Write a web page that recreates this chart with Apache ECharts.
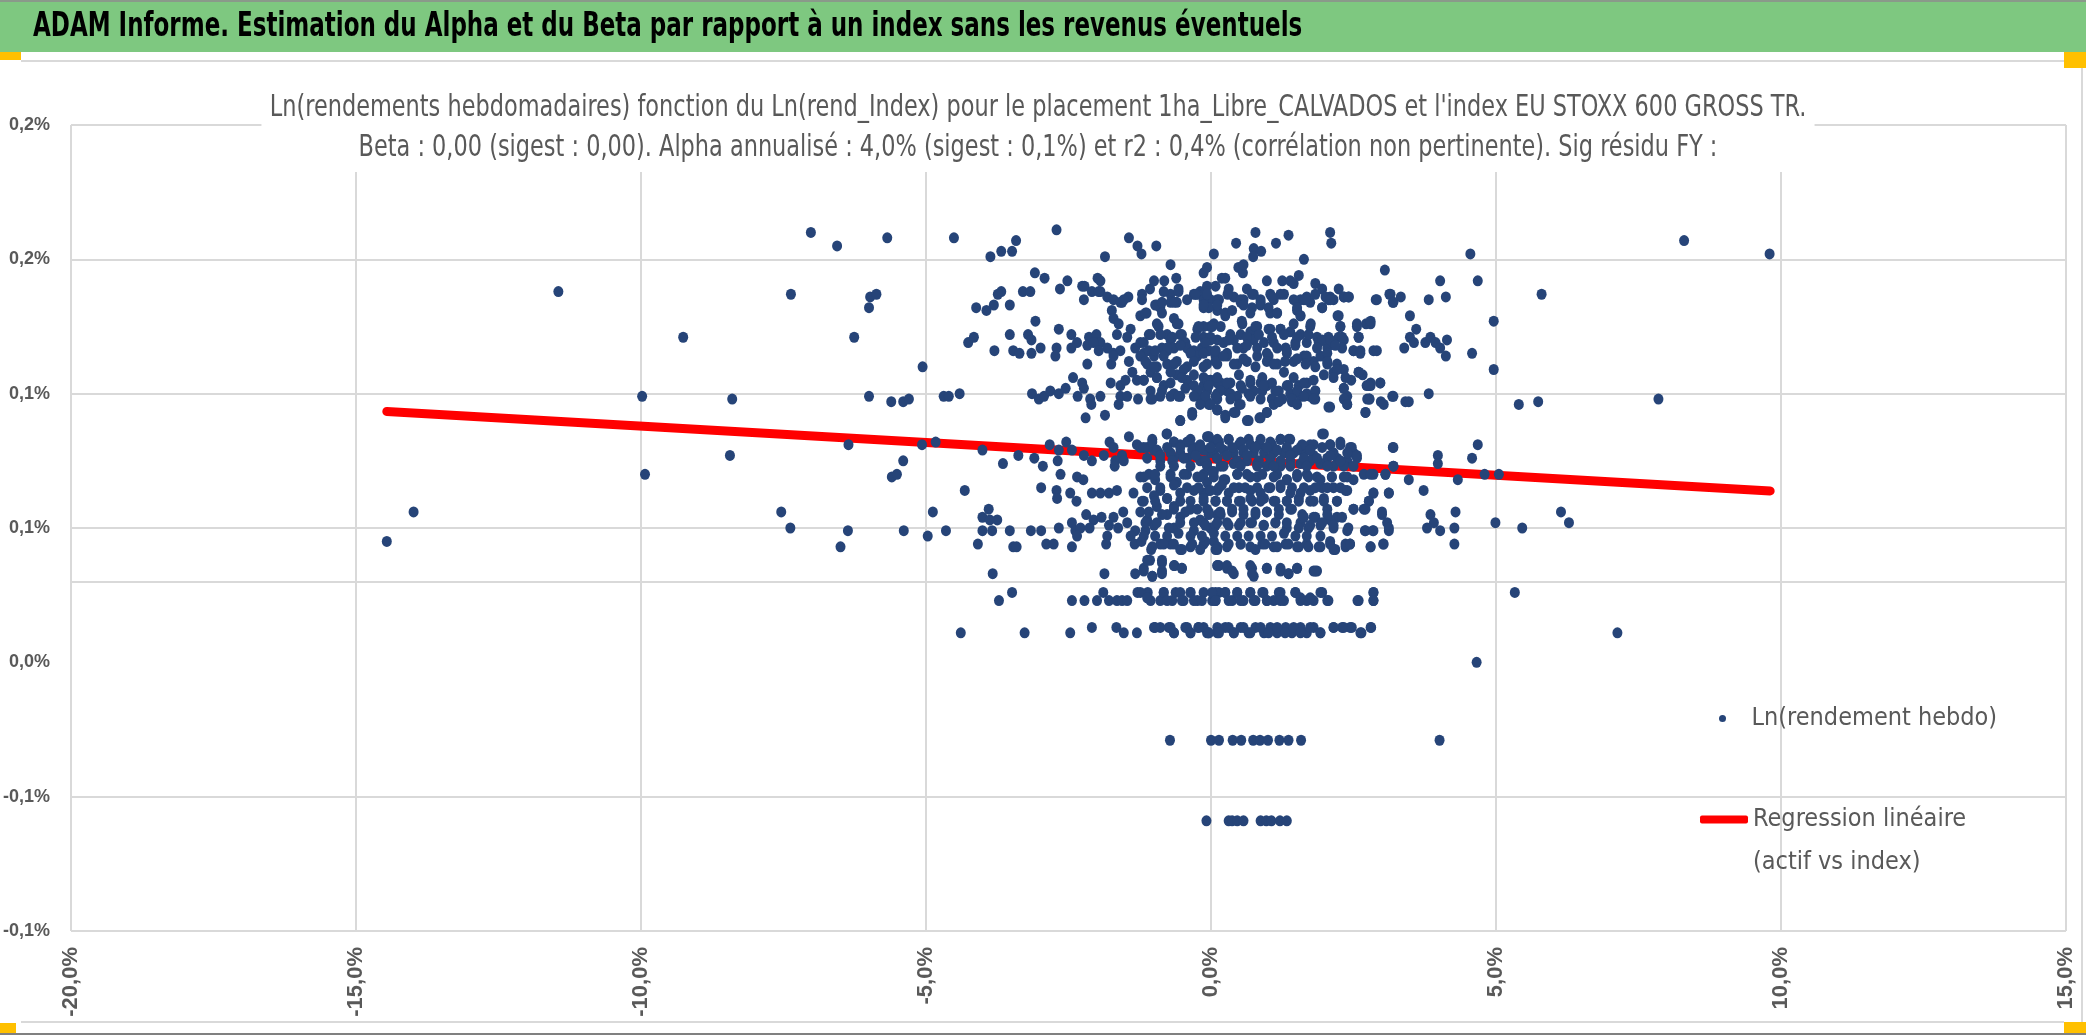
<!DOCTYPE html>
<html>
<head>
<meta charset="utf-8">
<title>ADAM Informe - Alpha / Beta</title>
<script src="https://cdn.jsdelivr.net/npm/echarts@6/dist/echarts.min.js"></script>
<style>
html,body{margin:0;padding:0;background:#fff;}
#chart{width:2086px;height:1035px;}
</style>
</head>
<body>
<div id="chart"></div>
<script>
var bannerTitle = "ADAM Informe. Estimation du Alpha et du Beta par rapport à un index sans les revenus éventuels";
var chartTitle = [
	"Ln(rendements hebdomadaires) fonction du Ln(rend_Index) pour le placement 1ha_Libre_CALVADOS et l'index EU STOXX 600 GROSS TR.",
	"Beta : 0,00 (sigest : 0,00). Alpha annualisé : 4,0% (sigest : 0,1%) et r2 : 0,4% (corrélation non pertinente). Sig résidu FY :"
];
var serieNames = ["Ln(rendement hebdo)", "Regression linéaire (actif vs index)"];

// [rendement index %, rendement actif %]
var outliersLeft = [[-7.02,0.160],[-6.56,0.155],[-5.68,0.158],[-11.45,0.138],[-7.37,0.137],[-5.98,0.136],[-5.87,0.137],[-6.00,0.132],[-9.26,0.121],[-6.26,0.121],[-5.06,0.110],[-9.98,0.099],[-8.40,0.098],[-6.00,0.099],[-5.61,0.097],[-5.40,0.097],[-5.30,0.098],[-4.69,0.099],[-6.36,0.081],[-5.07,0.081],[-4.83,0.082],[-8.44,0.077],[-9.93,0.070],[-5.40,0.075],[-5.60,0.069],[-5.51,0.070],[-13.99,0.056],[-14.46,0.045],[-7.54,0.056],[-7.38,0.050],[-6.37,0.049],[-6.50,0.043],[-5.39,0.049],[-4.97,0.047],[-4.88,0.056],[-4.65,0.049]];

var outliersRight = [[4.55,0.152],[4.68,0.142],[5.80,0.137],[4.96,0.127],[4.58,0.115],[4.96,0.109],[5.40,0.096],[5.74,0.097],[7.85,0.098],[8.30,0.157],[9.80,0.152],[4.68,0.081],[4.58,0.076],[4.80,0.070],[5.05,0.070],[6.14,0.056],[6.28,0.052],[4.99,0.052],[5.46,0.050],[5.33,0.026],[7.13,0.011],[4.66,0.000]];

var lowRows = [[-0.72,-0.029],[0.00,-0.029],[0.14,-0.029],[0.38,-0.029],[0.53,-0.029],[0.74,-0.029],[0.86,-0.029],[1.00,-0.029],[1.20,-0.029],[1.36,-0.029],[1.58,-0.029],[4.01,-0.029],[-0.08,-0.059],[0.31,-0.059],[0.37,-0.059],[0.46,-0.059],[0.57,-0.059],[0.87,-0.059],[0.97,-0.059],[1.06,-0.059],[1.21,-0.059],[1.33,-0.059]];

var clusterLeft = [[-4.51,0.158],[-3.87,0.151],[-3.68,0.153],[-3.49,0.153],[-3.42,0.157],[-2.71,0.161],[-1.86,0.151],[-1.44,0.158],[-1.29,0.155],[-1.22,0.152],[-0.96,0.155],[0.05,0.152],
[-3.09,0.145],[-2.92,0.143],[-2.52,0.142],[-2.65,0.139],[-2.26,0.140],[-2.22,0.140],[-1.99,0.143],[-1.94,0.142],[-2.09,0.138],[-1.94,0.138],[-1.82,0.136],[-1.71,0.135],[-1.56,0.134],[-1.45,0.136],[-1.21,0.137],[-1.07,0.139],[-1.00,0.142],[-0.82,0.142],[-0.71,0.148],[-0.61,0.143],[-0.57,0.139],[-0.71,0.137],[-0.30,0.137],[-0.19,0.138],[-0.13,0.145],[-0.07,0.147],[0.08,0.140],[-3.68,0.138],[-3.74,0.137],[-3.81,0.133],[-3.94,0.131],[-4.12,0.132],[-3.53,0.133],[-3.30,0.138],[-3.17,0.138],[-2.23,0.135],[-1.97,0.138],
[-1.74,0.131],[-1.59,0.134],[-1.53,0.135],[-1.21,0.135],[-1.24,0.129],[-1.13,0.130],[-0.95,0.133],[-0.89,0.132],[-0.71,0.134],[-0.60,0.134],[-0.86,0.130],[-0.65,0.128],[-0.42,0.135],[-0.24,0.137],[-0.13,0.132],[-0.01,0.135],[0.11,0.131],[-1.71,0.128],[-1.62,0.126],[-1.41,0.124],[-1.47,0.121],[-1.06,0.122],[-0.92,0.125],[-0.77,0.122],[-0.57,0.126],[-0.54,0.122],[-0.71,0.120],[-0.45,0.119],[-0.24,0.124],[-0.13,0.121],[-0.01,0.125],[0.11,0.120],[-3.08,0.127],[-2.67,0.124],[-2.45,0.122],[-2.35,0.119],[-2.14,0.121],[-2.01,0.122],[-1.94,0.119],[-1.82,0.117],[-3.53,0.122],[-3.21,0.122],[-3.15,0.120],[-1.65,0.122],[-4.26,0.119],[-4.16,0.121],[-3.80,0.116],[-3.47,0.116],[-3.36,0.115],[-3.15,0.115],[-2.99,0.117],[-2.71,0.117],[-2.73,0.114],[-2.45,0.117],
[-2.17,0.118],[-2.06,0.119],[-1.97,0.116],[-1.71,0.115],[-1.59,0.116],[-1.33,0.117],[-1.24,0.119],[-1.18,0.115],[-1.09,0.116],[-1.00,0.114],[-0.86,0.117],[-0.77,0.116],[-0.65,0.117],[-0.42,0.117],[-0.30,0.116],[-0.16,0.117],[-0.04,0.116],[0.08,0.116],[-2.17,0.111],[-1.75,0.111],[-1.71,0.114],[-1.44,0.112],[-1.24,0.114],[-1.12,0.111],[-0.95,0.110],[-0.77,0.111],[-0.60,0.112],[-0.42,0.110],[-0.24,0.114],[-0.07,0.111],[0.11,0.111],[-2.42,0.106],[-2.26,0.104],[-2.23,0.102],[-1.76,0.104],[-1.59,0.103],[-1.50,0.105],[-1.38,0.108],[-1.30,0.105],[-1.18,0.105],[-1.06,0.108],[-0.95,0.106],[-0.83,0.103],[-0.71,0.104],[-0.60,0.107],[-0.42,0.105],[-0.30,0.103],[-0.13,0.103],[-0.01,0.105],[0.11,0.104],[-3.14,0.100],[-3.02,0.098],[-2.93,0.099],[-2.82,0.101],[-2.67,0.100],[-2.55,0.102],[-2.34,0.099],[-2.12,0.098],[-1.94,0.099],[-1.59,0.099],[-1.47,0.099],[-1.28,0.098],[-1.06,0.098],[-0.89,0.099],[-0.71,0.099],[-0.54,0.099],[-0.19,0.099],[-0.07,0.097],[0.11,0.098],[-4.60,0.099],[-4.41,0.100],
[-2.20,0.091],[-2.10,0.096],[-1.86,0.092],[-1.62,0.096],[-0.54,0.090],[-0.33,0.093],[0.11,0.094],
[-4.01,0.079],[-3.65,0.074],[-3.38,0.077],[-3.10,0.076],[-2.83,0.081],[-2.67,0.079],[-2.54,0.082],[-2.44,0.079],[-2.23,0.077],[-2.09,0.075],[-1.88,0.077],[-1.78,0.082],[-1.71,0.080],[-1.56,0.077],[-1.44,0.084],[-1.30,0.081],[-1.24,0.080],[-1.12,0.080],[-1.03,0.083],[-0.92,0.078],[-0.78,0.085],[-0.65,0.082],[-0.54,0.081],[-0.42,0.082],[-0.30,0.080],[-0.19,0.081],[-0.07,0.084],[0.05,0.082],[-0.89,0.075],[-0.65,0.076],[-0.42,0.076],[-0.19,0.075],[-0.01,0.078],[0.11,0.076],[-1.68,0.075],[-1.53,0.075],[-0.71,0.078],[-0.54,0.078],[-1.00,0.079],
[-2.95,0.073],[-2.69,0.075],[-2.64,0.070],[-2.35,0.069],[-2.24,0.068],[-2.98,0.065],[-2.71,0.064],[-2.70,0.061],[-2.47,0.063],[-2.36,0.060],[-2.09,0.063],[-1.94,0.063],[-1.79,0.063],[-1.65,0.064],[-1.36,0.063],[-1.24,0.069],[-1.09,0.070],[-0.98,0.068],[-0.89,0.064],[-0.71,0.070],[-0.60,0.067],[-0.42,0.070],[-0.24,0.069],[-0.07,0.067],[0.05,0.071],[-0.54,0.063],[-0.30,0.064],[-0.13,0.063],[0.11,0.064],[-1.21,0.060],[-1.00,0.062],[-0.77,0.061],[-1.69,0.073],[-4.32,0.064],
[-3.90,0.057],[-4.01,0.054],[-3.88,0.053],[-3.75,0.053],[-2.19,0.055],[-2.06,0.053],[-1.92,0.054],[-1.71,0.054],[-1.54,0.056],[-1.47,0.052],[-1.24,0.056],[-1.12,0.053],[-0.95,0.058],[-0.77,0.055],[-0.65,0.058],[-0.54,0.054],[-0.36,0.057],[-0.19,0.053],[-0.07,0.057],[0.11,0.055],[-1.00,0.051],[-0.65,0.050],[-0.30,0.049],[-0.01,0.050],[-4.01,0.049],[-3.84,0.049],[-3.53,0.049],[-3.16,0.049],[-2.98,0.049],[-2.67,0.050],[-2.44,0.052],[-2.38,0.049],[-2.29,0.050],[-2.13,0.050],[-1.79,0.051],[-1.63,0.050],[-1.33,0.049],[-1.15,0.049],
[-4.09,0.044],[-3.47,0.043],[-3.41,0.043],[-2.89,0.044],[-2.76,0.044],[-2.44,0.043],[-2.35,0.047],[-1.82,0.047],[-1.84,0.044],[-1.41,0.047],[-1.34,0.044],[-1.22,0.045],[-1.05,0.042],[-0.89,0.044],[-0.71,0.044],[-0.54,0.042],[-0.36,0.043],[-0.13,0.044],[0.05,0.045],[0.11,0.042],
[-1.07,0.038],[-1.18,0.035],[-1.03,0.032],[-0.86,0.037],[-0.86,0.034],[-0.64,0.036],[-0.51,0.035],[-3.83,0.033],[-1.87,0.033],[-1.33,0.033],[0.11,0.036],
[-3.72,0.023],[-3.49,0.026],[-2.44,0.023],[-2.22,0.023],[-2.00,0.023],[-1.89,0.026],[-1.79,0.023],[-1.65,0.023],[-1.56,0.023],[-1.47,0.023],[-1.29,0.026],[-1.11,0.026],[-1.06,0.023],[-0.89,0.023],[-0.83,0.026],[-0.68,0.023],[-0.62,0.026],[-0.48,0.023],[-0.36,0.026],[-0.24,0.023],[-0.13,0.026],[0.02,0.023],[0.14,0.026],
[-4.39,0.011],[-3.27,0.011],[-2.47,0.011],[-2.09,0.013],[-1.66,0.013],[-1.53,0.011],[-1.30,0.011],[-1.00,0.013],[-0.89,0.013],[-0.74,0.013],[-0.65,0.011],[-0.45,0.013],[-0.36,0.011],[-0.22,0.013],[-0.07,0.011],[0.11,0.013]];

var clusterRight = [[0.78,0.160],[1.36,0.159],[2.09,0.160],[2.11,0.156],[0.44,0.156],[0.75,0.154],[0.88,0.153],[1.14,0.156],[0.74,0.151],[1.63,0.150],[3.05,0.146],[4.02,0.142],[4.12,0.136],[3.82,0.135],[2.89,0.135],[3.13,0.137],[3.19,0.134],[3.33,0.136],
[0.19,0.143],[0.25,0.143],[0.48,0.147],[0.56,0.145],[0.57,0.148],[0.98,0.142],[1.25,0.142],[1.39,0.142],[1.54,0.144],[1.45,0.141],[1.83,0.141],[1.95,0.139],[2.09,0.136],[2.24,0.139],[2.33,0.136],[2.42,0.136],[-0.07,0.140],[0.31,0.139],[0.40,0.136],[0.63,0.139],[0.75,0.137],[1.04,0.137],[1.22,0.137],[1.57,0.135],[1.68,0.136],[-0.13,0.135],[0.11,0.135],[0.57,0.135],[0.87,0.135],[1.10,0.135],[2.06,0.135],
[-0.04,0.132],[0.25,0.129],[0.52,0.134],[0.72,0.132],[0.87,0.133],[1.04,0.130],[1.16,0.130],[1.51,0.131],[1.57,0.129],[1.74,0.134],[1.95,0.132],[2.22,0.129],[2.27,0.125],[2.24,0.121],[2.06,0.121],[2.56,0.125],[2.72,0.126],[2.80,0.126],[2.59,0.121],[-0.13,0.125],[0.05,0.126],[0.17,0.125],[0.34,0.122],[0.55,0.126],[0.69,0.123],[0.81,0.125],[1.04,0.124],[1.22,0.124],[1.39,0.123],[1.57,0.122],[1.74,0.125],[1.86,0.121],[-0.01,0.120],[0.22,0.119],[0.40,0.120],[0.57,0.117],[0.75,0.120],[0.93,0.119],[1.10,0.119],[1.31,0.117],[1.48,0.119],[1.68,0.119],[1.89,0.119],[2.04,0.117],[2.15,0.119],[2.33,0.120],[2.30,0.117],[2.50,0.116],[2.62,0.116],[2.85,0.116],[3.39,0.117],[3.49,0.121],[3.60,0.124],[3.49,0.129],[3.56,0.119],[3.76,0.119],[3.85,0.121],[3.94,0.119],[4.02,0.117],[4.14,0.120],[4.12,0.114],
[-0.13,0.115],[0.08,0.114],[0.28,0.114],[0.46,0.111],[0.63,0.112],[0.81,0.114],[1.01,0.114],[1.16,0.111],[1.33,0.115],[1.45,0.112],[1.63,0.114],[1.80,0.112],[1.92,0.114],[2.04,0.111],[2.21,0.111],[2.15,0.108],[2.33,0.109],[2.46,0.105],[2.59,0.108],[2.66,0.107],[2.73,0.103],[2.80,0.103],[2.97,0.104],[3.18,0.099],[2.74,0.098],[2.98,0.097],[3.41,0.097],[3.47,0.097],[3.82,0.100],[-0.13,0.106],[-0.01,0.105],[0.17,0.104],[0.34,0.104],[0.52,0.103],[0.69,0.104],[0.87,0.104],[0.98,0.103],[1.19,0.101],[1.36,0.103],[1.54,0.103],[1.68,0.104],[1.83,0.101],[-0.07,0.101],[0.11,0.100],[0.28,0.101],[0.46,0.099],[0.66,0.100],[0.90,0.101],[1.07,0.098],[1.25,0.098],[1.39,0.100],[1.57,0.099],[1.74,0.099],[1.83,0.098],[2.06,0.095],[2.33,0.102],[2.39,0.099],[2.78,0.098],
[-0.04,0.096],[0.11,0.094],[0.25,0.091],[0.40,0.093],[0.49,0.096],[0.66,0.090],[0.87,0.091],[0.98,0.093],[1.16,0.097],[1.42,0.097],[2.39,0.096],[2.71,0.093],
[-0.04,0.084],[0.14,0.082],[0.31,0.083],[0.49,0.081],[0.66,0.083],[0.84,0.081],[1.04,0.082],[1.22,0.083],[1.36,0.083],[1.57,0.080],[1.74,0.081],[1.95,0.085],[2.09,0.081],[2.27,0.082],[2.44,0.080],[2.50,0.078],[-0.13,0.079],[0.05,0.078],[0.22,0.079],[0.40,0.078],[0.57,0.078],[0.75,0.078],[0.93,0.078],[1.10,0.078],[1.28,0.078],[1.45,0.078],[1.63,0.078],[1.80,0.077],[2.04,0.076],[2.21,0.076],[2.39,0.075],[2.56,0.076],[3.19,0.080],[3.20,0.073],[3.98,0.077],[3.98,0.074],[-0.07,0.074],[0.17,0.073],[0.40,0.074],[0.63,0.075],[0.81,0.074],[0.98,0.073],[1.22,0.073],[1.39,0.075],[1.57,0.074],[1.74,0.075],[1.92,0.074],[2.15,0.073],[2.33,0.073],[2.68,0.070],[2.85,0.070],[3.06,0.070],[3.47,0.068],[3.73,0.064],[4.33,0.068],
[-0.13,0.070],[0.05,0.069],[0.25,0.068],[0.46,0.070],[0.63,0.070],[0.81,0.069],[1.16,0.070],[1.33,0.068],[1.51,0.069],[1.68,0.070],[1.86,0.069],[2.12,0.069],[2.39,0.069],[-0.04,0.064],[0.14,0.065],[0.31,0.063],[0.49,0.065],[0.69,0.064],[0.87,0.063],[1.04,0.065],[1.22,0.065],[1.39,0.063],[1.57,0.063],[1.74,0.064],[1.95,0.065],[2.15,0.065],[2.36,0.064],[2.85,0.063],[2.77,0.060],[3.12,0.063],[-0.13,0.060],[0.08,0.060],[0.28,0.060],[0.52,0.060],[0.72,0.060],[0.93,0.061],[1.13,0.060],[1.33,0.060],[1.54,0.061],[1.80,0.060],[1.98,0.061],[2.21,0.060],
[-0.04,0.056],[0.17,0.055],[0.37,0.057],[0.57,0.055],[0.78,0.056],[0.98,0.056],[1.19,0.055],[1.39,0.057],[1.60,0.055],[1.83,0.054],[2.04,0.057],[2.21,0.054],[2.50,0.057],[2.68,0.057],[3.00,0.055],[3.09,0.052],[3.12,0.049],[3.85,0.055],[3.91,0.052],[4.02,0.049],[3.79,0.050],[4.29,0.056],[4.27,0.050],[-0.13,0.052],[0.08,0.051],[0.28,0.052],[0.49,0.051],[0.69,0.052],[0.93,0.051],[1.13,0.052],[1.33,0.050],[1.57,0.052],[1.71,0.050],[1.92,0.051],[2.09,0.053],[2.15,0.050],[2.39,0.049],[2.70,0.049],[2.84,0.049],
[-0.10,0.045],[0.11,0.043],[0.31,0.044],[0.52,0.044],[0.69,0.043],[0.90,0.044],[1.10,0.043],[1.31,0.044],[1.51,0.043],[1.68,0.044],[1.89,0.043],[2.09,0.044],[2.18,0.042],[2.36,0.043],[2.44,0.044],[2.80,0.043],[3.02,0.044],[4.27,0.044],
[0.14,0.036],[0.28,0.035],[0.40,0.033],[0.72,0.035],[0.75,0.032],[0.98,0.035],[1.22,0.034],[1.36,0.033],[1.51,0.035],[1.80,0.034],[1.86,0.034],
[0.08,0.026],[0.08,0.023],[0.25,0.026],[0.37,0.023],[0.46,0.026],[0.57,0.023],[0.69,0.026],[0.78,0.023],[0.90,0.026],[0.98,0.023],[1.10,0.023],[1.22,0.026],[1.28,0.023],[1.48,0.026],[1.57,0.023],[1.68,0.023],[1.80,0.023],[1.95,0.026],[2.04,0.023],[2.57,0.023],[2.85,0.026],[2.85,0.023],
[-0.13,0.013],[-0.04,0.011],[0.11,0.011],[0.25,0.013],[0.40,0.011],[0.52,0.013],[0.66,0.011],[0.78,0.013],[0.93,0.011],[1.04,0.013],[1.16,0.011],[1.31,0.013],[1.42,0.011],[1.57,0.013],[1.68,0.011],[1.80,0.013],[1.92,0.011],[2.15,0.013],[2.30,0.013],[2.44,0.013],[2.64,0.011],[2.81,0.013]];

// coeur du nuage, lu plus finement
var coreUpper = [[-0.83,0.138],[-0.57,0.138],[-0.27,0.137],[-0.07,0.137],[0.14,0.135],[0.29,0.137],[0.52,0.135],[0.72,0.137],[0.87,0.134],[1.07,0.136],[1.28,0.137],[1.45,0.135],[1.63,0.135],[1.83,0.137],[2.01,0.136],[2.15,0.135],[2.33,0.136],[2.41,0.136],[2.91,0.135],[3.15,0.137],[3.20,0.134],[-0.98,0.133],[-0.86,0.134],[-0.65,0.134],[-0.13,0.133],[0.11,0.133],[0.25,0.130],[0.37,0.131],[0.57,0.133],[0.69,0.130],[1.01,0.132],[1.16,0.130],[1.51,0.132],[1.66,0.135],[1.95,0.132],[2.09,0.135],
[-1.15,0.130],[-0.95,0.126],[-0.60,0.126],[-0.22,0.125],[0.02,0.125],[0.54,0.127],[0.78,0.125],[1.01,0.124],[1.22,0.124],[1.45,0.126],[1.57,0.129],[1.75,0.126],[2.24,0.129],[2.27,0.125],[2.56,0.126],[2.80,0.127],[-1.09,0.122],[-0.89,0.122],[-0.68,0.121],[-0.51,0.122],[-0.27,0.121],[-0.01,0.121],[0.31,0.120],[0.52,0.122],[0.63,0.121],[0.84,0.122],[1.07,0.121],[1.28,0.122],[1.51,0.121],[1.71,0.122],[1.95,0.120],[2.09,0.120],[2.30,0.121],[2.59,0.121],[2.91,0.116],
[-1.18,0.119],[-0.98,0.116],[-0.77,0.117],[-0.54,0.118],[-0.36,0.115],[-0.10,0.119],[0.08,0.116],[0.28,0.115],[0.46,0.117],[0.63,0.118],[0.81,0.117],[0.98,0.115],[1.16,0.117],[1.33,0.116],[1.48,0.118],[1.68,0.114],[1.86,0.117],[2.04,0.115],[2.18,0.118],[2.50,0.116],[2.62,0.115],[-1.15,0.112],[-1.00,0.110],[-0.83,0.114],[-0.65,0.111],[-0.48,0.109],[-0.30,0.112],[-0.13,0.110],[0.08,0.112],[0.22,0.114],[0.40,0.111],[0.57,0.113],[0.78,0.110],[0.98,0.112],[1.10,0.111],[1.30,0.112],[1.51,0.113],[1.66,0.111],[1.83,0.110],[2.04,0.112],[2.21,0.109],
[-1.18,0.105],[-0.95,0.106],[-0.71,0.108],[-0.51,0.106],[-0.30,0.107],[-0.07,0.105],[0.11,0.106],[0.28,0.104],[0.49,0.107],[0.69,0.105],[0.90,0.106],[1.07,0.104],[1.28,0.108],[1.45,0.106],[1.63,0.104],[1.80,0.105],[1.98,0.107],[2.15,0.106],[2.36,0.106],[2.59,0.108],[2.80,0.104],[2.97,0.104],[-1.06,0.101],[-0.86,0.101],[-0.65,0.100],[-0.45,0.102],[-0.24,0.101],[-0.04,0.103],[0.16,0.101],[0.34,0.100],[0.54,0.102],[0.75,0.101],[0.92,0.103],[1.13,0.101],[1.33,0.103],[1.51,0.101],[1.68,0.100],[1.83,0.101],[2.33,0.102],[2.77,0.103],[3.20,0.099],[-1.03,0.098],[-0.57,0.099],[-0.30,0.099],[-0.10,0.099],[0.08,0.099],[0.34,0.098],[0.69,0.099],[0.87,0.098],[1.07,0.098],[1.42,0.098],[1.63,0.099],[1.80,0.098],[2.33,0.098],[2.78,0.098],
[-0.19,0.096],[-0.01,0.096],[0.11,0.094],[0.25,0.092],[0.43,0.093],[0.52,0.096],[0.63,0.090],[0.85,0.091],[0.98,0.093],[1.10,0.096],[1.19,0.097],[1.51,0.096],[2.09,0.095],[2.39,0.096],[2.71,0.093],[3.03,0.096],[-0.54,0.090],[-0.33,0.092],
[-0.77,0.085],[-1.03,0.082],[-0.65,0.082],[-0.36,0.083],[-0.04,0.084],[0.11,0.083],[0.31,0.083],[0.52,0.082],[0.69,0.081],[0.87,0.083],[1.07,0.081],[1.22,0.083],[1.39,0.083],[1.60,0.081],[1.80,0.081],[1.98,0.085],[2.09,0.081],[2.27,0.081],[2.47,0.080],[-1.18,0.080],[-0.95,0.079],[-0.77,0.080],[-0.54,0.080],[-0.33,0.079],[-0.19,0.080],[-0.01,0.080],[0.16,0.080],[0.37,0.080],[0.57,0.079],[0.78,0.080],[0.98,0.080],[1.16,0.079],[1.33,0.080],[1.51,0.079],[1.74,0.079],[1.95,0.080],[2.15,0.078],[2.39,0.078],[2.56,0.077],[3.20,0.080],
[-1.12,0.076],[-0.89,0.077],[-0.68,0.075],[-0.48,0.076],[-0.27,0.077],[-0.10,0.075],[0.11,0.076],[0.28,0.077],[0.46,0.075],[0.63,0.077],[0.84,0.075],[1.04,0.076],[1.22,0.075],[1.39,0.077],[1.63,0.076],[1.86,0.076],[2.09,0.077],[2.27,0.075],[-0.89,0.073],[-0.65,0.073],[-0.36,0.073],[-0.07,0.073],[0.22,0.073],[0.52,0.073],[0.81,0.073],[1.10,0.073],[1.39,0.073],[1.68,0.073],[2.04,0.073],[2.50,0.073],[3.20,0.073]];

var coreLower = [[-1.18,0.069],[-0.98,0.070],[-0.71,0.069],[-0.48,0.070],[-0.19,0.069],[0.02,0.071],[0.22,0.068],[0.46,0.070],[0.69,0.069],[0.90,0.070],[1.10,0.069],[1.33,0.068],[1.51,0.070],[1.71,0.069],[1.92,0.068],[2.12,0.069],[2.33,0.069],[2.50,0.068],[2.80,0.070],[3.06,0.070],
[-1.12,0.065],[-0.89,0.065],[-0.65,0.066],[-0.42,0.065],[-0.22,0.065],[-0.01,0.064],[0.19,0.066],[0.40,0.065],[0.60,0.065],[0.81,0.065],[1.01,0.065],[1.22,0.066],[1.42,0.065],[1.63,0.065],[1.83,0.065],[2.04,0.065],[2.27,0.065],[2.39,0.064],[2.85,0.063],[3.12,0.063],
[-1.18,0.060],[-0.98,0.060],[-0.77,0.061],[-0.54,0.060],[-0.36,0.060],[-0.13,0.061],[0.08,0.060],[0.28,0.060],[0.49,0.060],[0.69,0.061],[0.87,0.060],[1.10,0.060],[1.33,0.060],[1.54,0.060],[1.74,0.060],[1.98,0.060],[2.21,0.060],[2.77,0.060],
[-1.09,0.056],[-0.86,0.055],[-0.65,0.057],[-0.45,0.056],[-0.24,0.057],[-0.04,0.055],[0.16,0.056],[0.37,0.056],[0.57,0.057],[0.78,0.055],[0.98,0.056],[1.19,0.057],[1.42,0.057],[1.63,0.054],[1.80,0.054],[2.04,0.055],[2.30,0.054],[2.50,0.057],[2.71,0.057],[3.00,0.056],
[-1.15,0.052],[-0.95,0.052],[-0.74,0.050],[-0.54,0.052],[-0.30,0.052],[-0.10,0.051],[0.11,0.052],[0.31,0.051],[0.52,0.052],[0.72,0.052],[0.92,0.051],[1.13,0.052],[1.33,0.052],[1.54,0.050],[1.74,0.051],[1.95,0.052],[2.15,0.051],[2.41,0.050],[2.71,0.049],[2.85,0.049],[3.12,0.050],
[-1.18,0.047],[-0.98,0.047],[-0.77,0.047],[-0.57,0.048],[-0.36,0.047],[-0.16,0.047],[0.05,0.048],[0.25,0.047],[0.46,0.047],[0.66,0.047],[0.87,0.047],[1.07,0.047],[1.28,0.048],[1.48,0.047],[1.68,0.047],[1.92,0.047],[2.09,0.045],
[-1.03,0.043],[-0.83,0.044],[-0.65,0.044],[-0.51,0.042],[-0.33,0.044],[-0.19,0.042],[0.08,0.042],[0.28,0.043],[0.52,0.044],[0.78,0.042],[0.95,0.044],[1.16,0.043],[1.36,0.044],[1.54,0.043],[1.71,0.043],[1.92,0.043],[2.15,0.042],[2.36,0.044],[2.44,0.044],[2.80,0.043],[3.03,0.044],
[-1.12,0.038],[-0.86,0.038],[-1.18,0.034],[-1.03,0.032],[-0.86,0.033],[-0.65,0.036],[-0.51,0.035],[0.11,0.036],[0.28,0.036],[0.37,0.034],[0.69,0.036],[0.72,0.033],[0.98,0.035],[1.22,0.035],[1.36,0.033],[1.51,0.035],[1.83,0.034],
[-1.24,0.026],[-1.12,0.024],[-0.83,0.026],[-0.77,0.023],[-0.54,0.026],[-0.51,0.023],[-0.36,0.026],[-0.30,0.023],[-0.16,0.023],[0.02,0.026],[0.08,0.023],[0.25,0.026],[0.31,0.023],[0.46,0.026],[0.52,0.023],[0.69,0.026],[0.75,0.023],[0.92,0.026],[0.98,0.023],[1.19,0.026],[1.22,0.023],[1.48,0.026],[1.57,0.024],[1.74,0.024],[1.92,0.026],[2.06,0.023],[2.59,0.023],[2.85,0.026],[2.85,0.023],
[-0.98,0.013],[-0.71,0.013],[-0.65,0.011],[-0.42,0.013],[-0.36,0.011],[-0.22,0.013],[-0.04,0.011],[0.14,0.011],[0.31,0.013],[0.40,0.011],[0.57,0.013],[0.69,0.011],[0.87,0.013],[1.01,0.011],[1.16,0.013],[1.30,0.011],[1.45,0.013],[1.57,0.011],[1.74,0.013],[1.92,0.011],[2.15,0.013],[2.33,0.013],[2.47,0.013],[2.62,0.011],[2.80,0.013]];

// droite de regression (extremites)
var regressionX = [-14.46, 9.81];
var regressionY = [0.0934, 0.0638];
// ligne horizontale de l'axe (croisement)
var axisCrossLevel = 0.0335;

var FONT = '"Liberation Sans Narrow","DejaVu Sans Condensed","Liberation Sans",sans-serif';
var LABEL_FONT = '"Liberation Sans",Arial,sans-serif';
var GRID_COLOR = '#d9d9d9';
var TEXT_COLOR = '#595959';

function formatPctX(v){
	return v.toFixed(1).replace('.', ',') + '%';
}
function formatPctY(v){
	// arrondi a 1 decimale, comme Excel (0,15 -> 0,2 ; -0,05 -> -0,1)
	var r = Math.sign(v) * Math.round(Math.abs(v) * 10 + 1e-9) / 10;
	return r.toFixed(1).replace('.', ',') + '%';
}

var points = [].concat(outliersLeft, clusterLeft, clusterRight, coreUpper, coreLower, outliersRight, lowRows);
var regression = [];
for(var i = 0; i < regressionX.length; i++){
	regression.push([regressionX[i], regressionY[i]]);
}
// pas de ligne de grille a 0
var yGridColors = [GRID_COLOR, GRID_COLOR, 'rgba(0,0,0,0)', GRID_COLOR, GRID_COLOR, GRID_COLOR, GRID_COLOR];

var chart = echarts.init(document.getElementById('chart'));
var option = {
	animation: false,
	backgroundColor: '#fff',
	graphic: [
		{type: 'rect', z: -10, shape: {x: 0, y: 0, width: 2086, height: 52}, style: {fill: '#7ec880'}},
		{type: 'rect', z: -9, shape: {x: 0, y: 0, width: 2086, height: 2}, style: {fill: '#8a9a8a'}},
		{type: 'rect', z: -9, shape: {x: 21, y: 60, width: 2043, height: 2}, style: {fill: GRID_COLOR}},
		{type: 'rect', z: -9, shape: {x: 21, y: 1021, width: 2043, height: 2}, style: {fill: GRID_COLOR}},
		{type: 'rect', z: -9, shape: {x: 2081, y: 68, width: 2, height: 954}, style: {fill: GRID_COLOR}},
		{type: 'rect', z: -9, shape: {x: 0, y: 1033, width: 2086, height: 2}, style: {fill: '#808080'}},
		{type: 'rect', z: -8, shape: {x: 0, y: 52, width: 21, height: 8}, style: {fill: '#ffc000'}},
		{type: 'rect', z: -8, shape: {x: 2064, y: 52, width: 22, height: 16}, style: {fill: '#ffc000'}},
		{type: 'rect', z: -8, shape: {x: 0, y: 1023, width: 16, height: 10}, style: {fill: '#ffc000'}},
		{type: 'rect', z: -8, shape: {x: 2064, y: 1022, width: 22, height: 11}, style: {fill: '#ffc000'}},
		// bandeau
		{type: 'text', z: 50, x: 33, y: 27, scaleX: 0.752, style: {
			text: bannerTitle, fontFamily: FONT, fontSize: 34, fontWeight: 'bold', fill: '#000',
			align: 'left', verticalAlign: 'middle'
		}},
		// titre du graphique, fond blanc par-dessus la grille
		{type: 'text', z: 50, x: 1038, y: 84, scaleX: 0.831, style: {
			text: chartTitle.join('\n'), fontFamily: FONT, fontSize: 30, fill: TEXT_COLOR,
			align: 'center', verticalAlign: 'top', lineHeight: 40,
			backgroundColor: '#fff', padding: [4, 10]
		}}
	],
	legend: [{
		data: [serieNames[0]],
		left: 1719,
		top: 697,
		padding: 0,
		icon: 'path://M5,0A5,5,0,1,1,5,10A5,5,0,1,1,5,0Z',
		itemWidth: 48,
		itemHeight: 7,
		selectedMode: false,
		textStyle: {fontFamily: FONT, fontSize: 25, color: TEXT_COLOR, lineHeight: 43}
	},{
		data: [{name: serieNames[1], icon: 'roundRect'}],
		left: 1700,
		top: 755,
		padding: 0,
		itemWidth: 48,
		itemHeight: 8,
		selectedMode: false,
		// ligne vide en tete : la 1re ligne du texte reste alignee sur le trait
		formatter: function(name){ return '\n' + name.replace(' (', '\n('); },
		textStyle: {fontFamily: FONT, fontSize: 25, color: TEXT_COLOR, lineHeight: 43}
	}],
	grid: {left: 70, right: 20, top: 125, bottom: 104},
	xAxis: {
		type: 'value',
		min: -20,
		max: 15,
		interval: 5,
		axisLine: {show: false},
		axisTick: {show: false},
		splitLine: {show: true, lineStyle: {color: GRID_COLOR, width: 2}},
		axisLabel: {rotate: 90, margin: 16, fontFamily: LABEL_FONT, fontSize: 22, fontWeight: 'bold', color: TEXT_COLOR, formatter: formatPctX}
	},
	yAxis: {
		type: 'value',
		min: -0.1,
		max: 0.2,
		interval: 0.05,
		axisLine: {show: false},
		axisTick: {show: false},
		splitLine: {show: true, lineStyle: {color: yGridColors, width: 2}},
		axisLabel: {margin: 21, fontFamily: LABEL_FONT, fontSize: 18, fontWeight: 'bold', color: TEXT_COLOR, formatter: formatPctY}
	},
	series: [{
		name: serieNames[1],
		type: 'line',
		z: 1,
		data: regression,
		symbol: 'none',
		silent: true,
		itemStyle: {color: '#ff0000'},
		lineStyle: {color: '#ff0000', width: 9, cap: 'round'}
	},{
		name: serieNames[0],
		type: 'scatter',
		z: 2,
		data: points,
		symbolSize: [10, 11],
		itemStyle: {color: '#264478', opacity: 1},
		markLine: {
			silent: true,
			z: 0,
			symbol: ['none', 'none'],
			label: {show: false},
			lineStyle: {color: GRID_COLOR, width: 2, type: 'solid'},
			data: [{yAxis: axisCrossLevel}]
		}
	}]
};
chart.setOption(option);
</script>
</body>
</html>
